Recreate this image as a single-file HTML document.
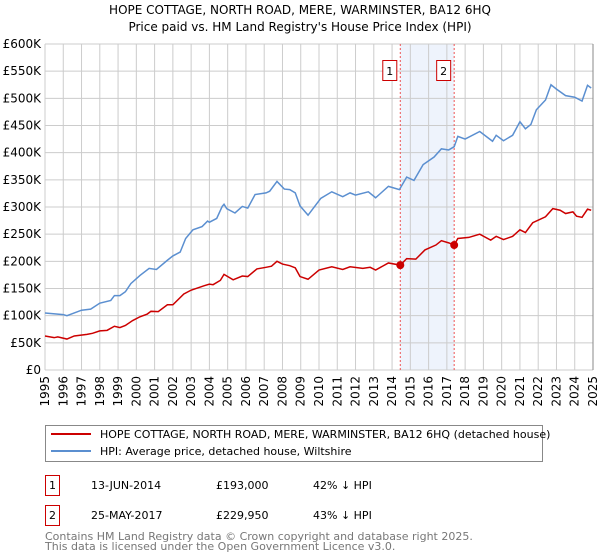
<!DOCTYPE html>
<html><head><meta charset="utf-8"><style>
body{margin:0;background:#fff;font-family:"Liberation Sans","DejaVu Sans",sans-serif;}
svg{display:block}
</style></head><body>
<svg id="chart" width="600" height="560" xmlns="http://www.w3.org/2000/svg" font-family="DejaVu Sans, Liberation Sans, sans-serif">
<text x="300" y="14" text-anchor="middle" font-size="12">HOPE COTTAGE, NORTH ROAD, MERE, WARMINSTER, BA12 6HQ</text>
<text x="300" y="31" text-anchor="middle" font-size="12">Price paid vs. HM Land Registry's House Price Index (HPI)</text>
<g id="grid"></g>
<g id="marks"></g>
<g id="axes"></g>
<g>
<rect x="45.5" y="425.5" width="497" height="36" fill="#fff" stroke="#888"/>
<line x1="51" y1="434" x2="91" y2="434" stroke="#cc0000" stroke-width="2"/>
<text x="100" y="438" font-size="11">HOPE COTTAGE, NORTH ROAD, MERE, WARMINSTER, BA12 6HQ (detached house)</text>
<line x1="51" y1="451" x2="91" y2="451" stroke="#5b8fd0" stroke-width="2"/>
<text x="100" y="455" font-size="11">HPI: Average price, detached house, Wiltshire</text>
</g>
<g font-size="11">
<rect x="45.5" y="475.5" width="14" height="20" fill="#fff" stroke="#cc0000"/>
<text x="52.5" y="489" text-anchor="middle">1</text>
<text x="91" y="489">13-JUN-2014</text>
<text x="216" y="489">£193,000</text>
<text x="313" y="489">42% ↓ HPI</text>
<rect x="45.5" y="505.5" width="14" height="20" fill="#fff" stroke="#cc0000"/>
<text x="52.5" y="519" text-anchor="middle">2</text>
<text x="91" y="519">25-MAY-2017</text>
<text x="216" y="519">£229,950</text>
<text x="313" y="519">43% ↓ HPI</text>
</g>
<text x="45" y="540" font-size="11" fill="#777">Contains HM Land Registry data © Crown copyright and database right 2025.</text>
<text x="45" y="550" font-size="11" fill="#777">This data is licensed under the Open Government Licence v3.0.</text>
</svg>
<script>
const yTicks=[0,50,100,150,200,250,300,350,400,450,500,550,600];
const yTickLabels=["£0","£50K","£100K","£150K","£200K","£250K","£300K","£350K","£400K","£450K","£500K","£550K","£600K"];
const xYears=[1995,1996,1997,1998,1999,2000,2001,2002,2003,2004,2005,2006,2007,2008,2009,2010,2011,2012,2013,2014,2015,2016,2017,2018,2019,2020,2021,2022,2023,2024,2025];
const hpiYears=[1995.0,1996.0,1996.2,1997.0,1997.5,1998.0,1998.6,1998.8,1999.1,1999.4,1999.7,2000.2,2000.7,2001.1,2001.7,2002.0,2002.4,2002.7,2003.1,2003.6,2003.9,2004.0,2004.4,2004.7,2004.8,2004.95,2005.4,2005.8,2006.1,2006.5,2007.1,2007.3,2007.7,2008.1,2008.4,2008.7,2008.96,2009.4,2010.1,2010.7,2011.3,2011.7,2012.0,2012.7,2013.1,2013.4,2013.8,2014.4,2014.8,2015.2,2015.7,2016.3,2016.7,2017.1,2017.4,2017.6,2018.0,2018.8,2019.5,2019.7,2020.1,2020.6,2021.0,2021.3,2021.6,2021.9,2022.4,2022.7,2023.0,2023.5,2024.0,2024.4,2024.7,2024.9];
const hpiValues=[105,102,100,110,112,123,128,137,137,144,159,174,187,185,202,210,217,242,258,264,274,272,279,301,305,297,289,301,298,323,326,329,347,333,332,326,302,285,316,328,319,326,322,328,317,326,338,332,355,349,378,392,407,405,411,430,425,439,421,432,422,432,457,444,452,479,497,525,517,505,502,495,524,519];
const propYears=[1995.0,1995.5,1995.7,1996.2,1996.6,1997.3,1997.6,1998.0,1998.4,1998.8,1999.1,1999.4,1999.8,2000.2,2000.6,2000.8,2001.2,2001.7,2002.0,2002.6,2003.0,2003.7,2004.0,2004.2,2004.6,2004.8,2005.3,2005.8,2006.1,2006.6,2007.1,2007.4,2007.7,2008.0,2008.4,2008.7,2008.96,2009.4,2010.0,2010.7,2011.3,2011.7,2012.4,2012.8,2013.1,2013.8,2014.45,2014.8,2015.3,2015.8,2016.4,2016.7,2017.1,2017.4,2017.6,2018.2,2018.8,2019.4,2019.7,2020.1,2020.6,2021.0,2021.3,2021.7,2022.4,2022.8,2023.2,2023.5,2023.9,2024.1,2024.4,2024.7,2024.9];
const propValues=[62.6,59.5,61,57,62.6,65.6,67.5,72,73,80.5,78,82,91,98,103,108,107.5,120,120,140,147,155,158,157,165,176,166,173,172,186,189,191,200,195,192,188,172,167,184,190,185,190,187,189,184,197,193,205,204,221,230,238,234,230,242,244,250,239,246,240,246,258,253,271,282,297,294,288,291,283,281,296,294];
const saleYears=[2014.45,2017.4];
const saleValues=[193,229.95];
const saleLabels=["1","2"];

const X0=45,X1=593,Y0=370,Y1=44;
const xs=y=>X0+(y-1995)/(2025-1995)*(X1-X0);
const ys=v=>Y0-v/600*(Y0-Y1);
const NS="http://www.w3.org/2000/svg";
function mk(parent,tag,attrs){const e=document.createElementNS(NS,tag);for(const k in attrs)e.setAttribute(k,attrs[k]);document.getElementById(parent).appendChild(e);return e;}

const shade=mk('grid','rect',{x:xs(saleYears[0]),y:Y1,width:xs(saleYears[1])-xs(saleYears[0]),height:Y0-Y1,fill:'#eef3fc'});


yTicks.forEach((t,i)=>{
  const l=mk('grid','line',{x1:X0,x2:X1,y1:ys(t),y2:ys(t),stroke:'#cccccc','stroke-width':1});
  
  
  const tx=mk('axes','text',{x:41,y:ys(t)+4,'text-anchor':'end','font-size':12});
  tx.textContent=yTickLabels[i];
  
  
});
xYears.forEach(yr=>{
  const l=mk('grid','line',{x1:xs(yr),x2:xs(yr),y1:Y1,y2:Y0,stroke:'#cccccc','stroke-width':1});
  
  
  const tx=mk('axes','text',{x:0,y:0,'font-size':12,'text-anchor':'end',transform:`translate(${xs(yr)+4},376) rotate(-90)`});
  tx.textContent=String(yr);
  
  
});
const edge=mk('grid','line',{x1:X1,x2:X1,y1:Y1,y2:Y0,stroke:'#888','stroke-width':1});


saleYears.forEach((yr,i)=>{
  const l=mk('marks','line',{x1:xs(yr),x2:xs(yr),y1:Y1,y2:Y0,stroke:'#ee5555','stroke-width':1,'stroke-dasharray':'2,2'});
  
  
  const r=mk('marks','rect',{x:xs(yr)-17.5,y:60.5,width:14,height:20,fill:'#fff',stroke:'#cc0000'});
  
  
  const t=mk('marks','text',{x:xs(yr)-10.5,y:75,'text-anchor':'middle','font-size':11});
  t.textContent=saleLabels[i];
  
  
});
const hp=mk('marks','polyline',{points:hpiYears.map((y,i)=>xs(y)+','+ys(hpiValues[i])).join(' '),fill:'none',stroke:'#5b8fd0','stroke-width':1.5});


const pp=mk('marks','polyline',{points:propYears.map((y,i)=>xs(y)+','+ys(propValues[i])).join(' '),fill:'none',stroke:'#cc0000','stroke-width':1.5});


saleYears.forEach((yr,i)=>{
  const c=mk('marks','circle',{cx:xs(yr),cy:ys(saleValues[i]),r:4,fill:'#cc0000'});
  
  
});
</script>
</body></html>
